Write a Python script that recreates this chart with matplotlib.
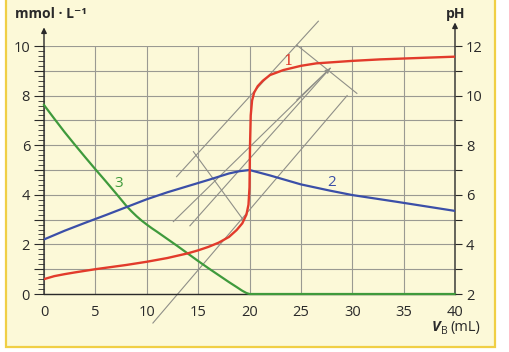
import numpy as np
import matplotlib.pyplot as plt
from matplotlib.patches import Rectangle

# --- data ---
# curve 1: pH (right axis)
v_ph = [0, 1, 2, 3, 5, 8, 10, 12, 14, 15, 16, 17, 18, 18.75, 19.3, 19.7, 19.9, 20.0,
        20.05, 20.12, 20.25, 20.45, 20.8, 21.3, 22, 23.3, 25, 26.5, 30, 32.7, 36, 40]
ph = [2.6, 2.72, 2.8, 2.87, 3.0, 3.17, 3.3, 3.45, 3.64, 3.76, 3.9, 4.07, 4.3, 4.58,
      4.85, 5.2, 5.6, 6.3, 8.0, 9.2, 9.8, 10.12, 10.38, 10.6, 10.83, 11.03, 11.2,
      11.3, 11.4, 11.46, 11.51, 11.57]

# curve 2
v_c2 = [0, 2, 4, 6, 8, 10, 12, 14, 16, 18, 19, 20, 22, 25, 27.8, 30, 34.3, 40]
c2 = [2.2, 2.55, 2.87, 3.18, 3.5, 3.82, 4.1, 4.35, 4.6, 4.86, 4.95, 5.0,
      4.78, 4.42, 4.17, 3.99, 3.72, 3.35]

# curve 3 (mmol/L)
v_c3 = [0, 1, 2, 3, 4, 5, 6, 7, 8, 8.5, 9, 9.5, 10, 10.5, 11, 12, 13, 14, 15, 16,
        17, 18, 18.75, 19.3, 19.7, 20, 40]
c3 = [7.62, 7.07, 6.53, 6.02, 5.52, 5.03, 4.55, 4.06, 3.56, 3.34, 3.14, 2.96, 2.8,
      2.65, 2.51, 2.22, 1.93, 1.63, 1.33, 1.04, 0.76, 0.48, 0.28, 0.13, 0.04, 0.0, 0.0]

# construction lines (parallel tangent method)
tangent_hi = ([12.9, 26.7], [4.73, 11.0])
tangent_lo = ([10.6, 29.5], [-1.17, 8.0])
perp_1 = ([14.54, 19.41], [5.74, 2.98])
perp_2 = ([24.6, 30.45], [10.04, 8.09])
middle_1 = ([12.59, 27.85], [2.92, 9.10])
middle_2 = ([14.2, 27.85], [2.75, 9.10])

x_ticks = [0, 5, 10, 15, 20, 25, 30, 35, 40]
left_labels = ['0', '', '2', '', '4', '', '6', '', '8', '', '10']
ph_ticks = [2, 4, 6, 8, 10, 12]

RED = '#e23b2b'
BLUE = '#3b4fa8'
GREEN = '#3f9a3c'
GRAY = '#8f8f88'
BG = '#fcf9d8'
INK = '#2a2a2a'

plt.rcParams['font.family'] = ['Open Sans', 'DejaVu Sans']

W, H = 510, 352
fig = plt.figure(figsize=(W / 100, H / 100), dpi=100)
fig.patch.set_facecolor('white')

# pale yellow panel with golden border
fig.patches.append(Rectangle((6 / W, 1 - 347 / H), (495 - 6) / W, 347 / H + 0.02,
                             transform=fig.transFigure, facecolor=BG,
                             edgecolor='#f0cf45', linewidth=1.6, zorder=-10))

ax = fig.add_axes([44 / W, 1 - 294 / H, 411 / W, 248 / H])
ax.set_facecolor('none')
ax.set_xlim(0, 40)
ax.set_ylim(0, 10)

# grid
ax.set_xticks(x_ticks)
ax.set_yticks(np.arange(0, 11, 1))
ax.grid(True, color='#9a9a92', linewidth=0.8)
ax.set_axisbelow(True)

ax.spines['top'].set_visible(False)
ax.spines['left'].set_visible(False)
ax.spines['right'].set_visible(False)
ax.spines['bottom'].set_color(INK)
ax.spines['bottom'].set_linewidth(1.0)

# vertical axes with arrows
ax.annotate('', xy=(0, 10.75), xytext=(0, 0), annotation_clip=False,
            arrowprops=dict(arrowstyle='-|>', color=INK, lw=1.0,
                            mutation_scale=8, shrinkA=0, shrinkB=0))
ax.annotate('', xy=(40, 10.95), xytext=(40, 0), annotation_clip=False,
            arrowprops=dict(arrowstyle='-|>', color=INK, lw=1.0,
                            mutation_scale=8, shrinkA=0, shrinkB=0))

# left ticks
ax.set_yticklabels(left_labels)
ax.tick_params(axis='y', which='major', direction='out', length=7, width=0.8,
               color=INK, labelsize=10.5, labelcolor=INK, pad=3)
ax.set_yticks(np.arange(0, 10.01, 0.2), minor=True)
ax.tick_params(axis='y', which='minor', direction='out', length=4.5, width=0.6,
               color=INK)
ax.tick_params(axis='x', which='major', length=0, labelsize=10.5,
               labelcolor=INK, pad=8)

# right pH axis
ax2 = ax.twinx()
ax2.set_ylim(2, 12)
for s in ax2.spines.values():
    s.set_visible(False)
ax2.set_yticks(ph_ticks)
ax2.set_yticks(np.arange(3, 12, 2), minor=True)
ax2.tick_params(axis='y', which='major', direction='out', length=5, width=0.8,
                color=INK, labelsize=10.5, labelcolor=INK, pad=3)
ax2.tick_params(axis='y', which='minor', direction='out', length=5, width=0.8,
                color=INK)

# construction lines
for xs, ys in [tangent_hi, tangent_lo, perp_1, perp_2, middle_1, middle_2]:
    ax.plot(xs, ys, color=GRAY, linewidth=0.8, clip_on=False, zorder=2)
ax.annotate('', xy=(middle_1[0][1], middle_1[1][1]),
            xytext=(middle_1[0][0] + 12, middle_1[1][0] + 4.9),
            arrowprops=dict(arrowstyle='-|>', color=GRAY, lw=0.8,
                            mutation_scale=7, shrinkA=0, shrinkB=0))

# curves
ax.plot(v_c3, c3, color=GREEN, linewidth=1.6, zorder=4, clip_on=False)
ax.plot(v_c2, c2, color=BLUE, linewidth=1.6, zorder=4)
ax2.plot(v_ph, ph, color=RED, linewidth=1.7, zorder=4)

ax.text(23.75, 9.4, '1', color=RED, fontsize=11, family='DejaVu Serif',
        ha='center', va='center')
ax.text(28.0, 4.48, '2', color=BLUE, fontsize=11, ha='center', va='center')
ax.text(7.3, 4.44, '3', color=GREEN, fontsize=11, ha='center', va='center')

# axis titles
fig.text(15 / W, 1 - 18 / H, 'mmol · L⁻¹', fontsize=10, fontweight='bold',
         color=INK, ha='left', va='baseline')
fig.text(446 / W, 1 - 18 / H, 'pH', fontsize=10, fontweight='bold',
         color=INK, ha='left', va='baseline')
fig.text(432 / W, 1 - 331 / H, 'V', fontsize=10.5, fontweight='bold',
         style='italic', color=INK, ha='left', va='baseline')
fig.text(441 / W, 1 - 334 / H, 'B', fontsize=7.5, color=INK,
         ha='left', va='baseline')
fig.text(450 / W, 1 - 331 / H, '(mL)', fontsize=10.5, color=INK,
         ha='left', va='baseline')

fig.savefig('out.png', dpi=100)
